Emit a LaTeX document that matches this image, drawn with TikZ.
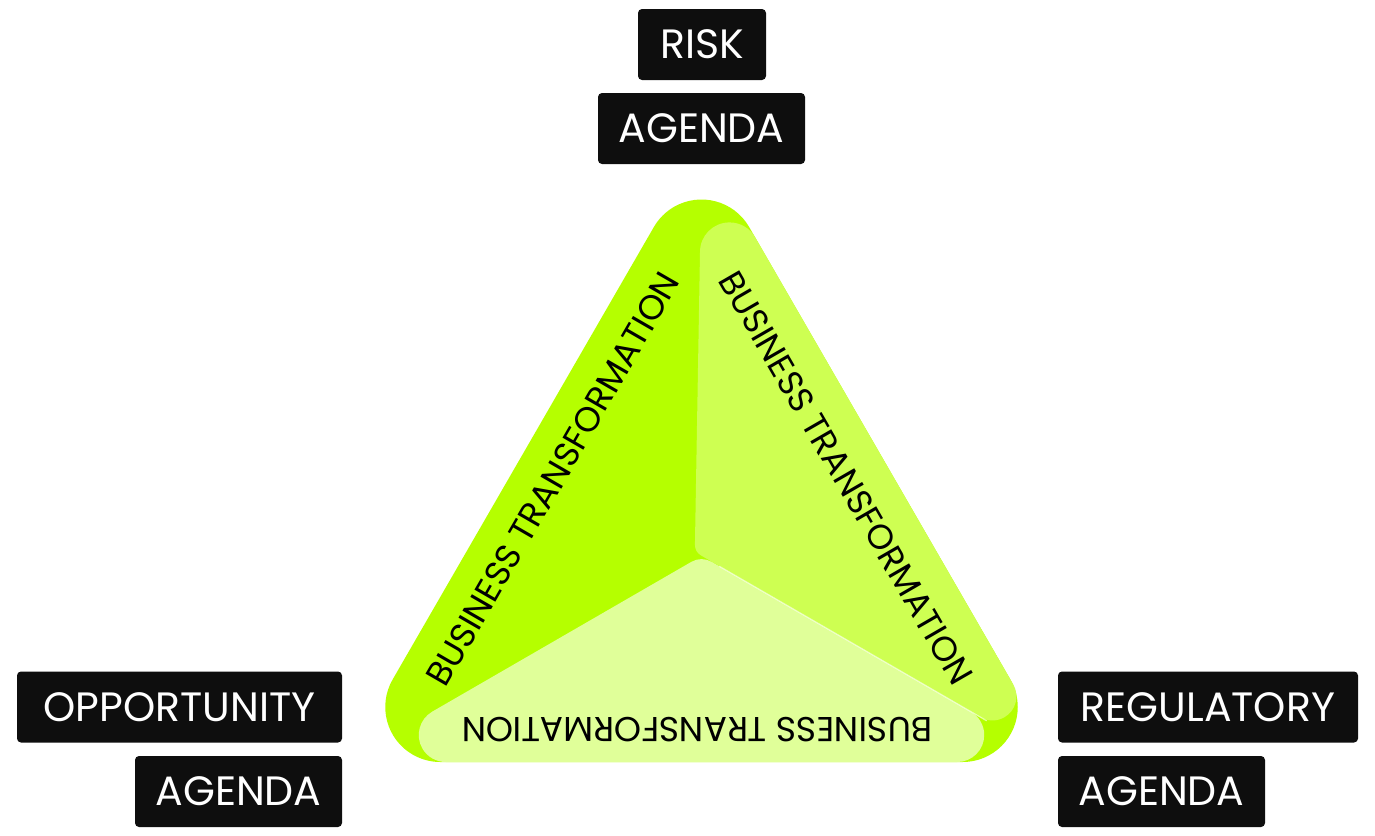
\documentclass[tikz,border=0pt]{standalone}
\usepackage{fontspec}
\setmainfont{Poppins}
\usetikzlibrary{calc}

\definecolor{limedark}{RGB}{181,255,0}
\definecolor{limemid}{RGB}{206,255,82}
\definecolor{limelight}{RGB}{224,255,153}
\definecolor{boxblack}{RGB}{14,14,14}

\begin{document}
\begin{tikzpicture}[x=1pt, y=-1pt]
    \tikzstyle{agenda}=[fill=boxblack, text=white, rounded corners=4pt, inner sep=0pt, minimum height=71pt, font=\fontsize{41}{41}\selectfont]
    \tikzstyle{facet text}=[inner sep=0pt, font=\fontsize{34.6}{34.6}\selectfont]

    \useasboundingbox (0,0) rectangle (1375,835);

    % Corners of the triangle
    \coordinate (V-1) at (701.5,144.5);
    \coordinate (V-2) at (345,762);
    \coordinate (V-3) at (1058,762);
    \coordinate (C) at (701.5,556);
    \coordinate (A) at (700,141.8);
    \coordinate (C-R) at (700,557);

    % Corner circles: outer shape
    \def\ro{55}
    \coordinate (O-1) at ($(V-1)+(90:2*\ro)$);
    \coordinate (O-2) at ($(V-2)+(-30:2*\ro)$);
    \coordinate (O-3) at ($(V-3)+(210:2*\ro)$);

    % Corner circles: right facet
    \def\ra{29.5} \def\rb{24} \def\rc{12}
    \coordinate (R-1) at ($(A)+(75:{\ra/sin(15)})$);
    \coordinate (R-2) at ($(V-3)+(225:{\rb/sin(15)})$);
    \coordinate (R-3) at ($(C-R)+(300:{\rc/sin(60)})$);

    % Corner circles: bottom facet
    \def\rd{27} \def\re{20}
    \coordinate (B-1) at ($(V-2)+(-15:{\rd/sin(15)})$);
    \coordinate (B-2) at ($(V-3)+(195:{\rd/sin(15)})$);
    \coordinate (B-3) at ($(C)+(90:{\re/sin(60)})$);

    % Outer shape
    \fill[limedark] ($(O-1)+(210:\ro)$) -- ($(O-2)+(210:\ro)$) arc[start angle=210, end angle=90, radius=\ro]
        -- ($(O-3)+(90:\ro)$) arc[start angle=90, end angle=-30, radius=\ro]
        -- ($(O-1)+(-30:\ro)$) arc[start angle=-30, end angle=-150, radius=\ro] -- cycle;

    % Right facet
    \fill[limemid] ($(R-1)+(180:\ra)$) arc[start angle=180, end angle=330, radius=\ra]
        -- ($(R-2)+(330:\rb)$) arc[start angle=330, end angle=480, radius=\rb]
        -- ($(R-3)+(120:\rc)$) arc[start angle=120, end angle=180, radius=\rc] -- cycle;

    % Bottom facet
    \fill[limelight] ($(B-1)+(240:\rd)$) arc[start angle=240, end angle=90, radius=\rd]
        -- ($(B-2)+(90:\rd)$) arc[start angle=90, end angle=-60, radius=\rd]
        -- ($(B-3)+(-60:\re)$) arc[start angle=-60, end angle=-120, radius=\re] -- cycle;

    \coordinate (H-1) at ($(C)!0.05!(V-3)$);
    \coordinate (H-2) at ($(C)!0.8!(V-3)$);
    \draw[white, opacity=0.6, line width=1.2pt] (H-1) -- (H-2);

    % Facet labels
    \foreach \i/\x/\y/\ang in {1/553/479/60, 2/846/478/-60, 3/697/730/180}
        \node[facet text, rotate=\ang] (T-\i) at (\x,\y) {BUSINESS TRANSFORMATION};

    % Agenda boxes
    \node[agenda, minimum width=128pt] (Risk) at (702,44.5) {RISK};
    \node[agenda, minimum width=207pt] (Risk-A) at (701.5,128.5) {AGENDA};
    \node[agenda, minimum width=325pt] (Opp) at (179.5,707) {OPPORTUNITY};
    \node[agenda, minimum width=207pt] (Opp-A) at (238.5,791.5) {AGENDA};
    \node[agenda, minimum width=300pt] (Reg) at (1208,707) {REGULATORY};
    \node[agenda, minimum width=207pt] (Reg-A) at (1161.5,791.5) {AGENDA};

\end{tikzpicture}
\end{document}
